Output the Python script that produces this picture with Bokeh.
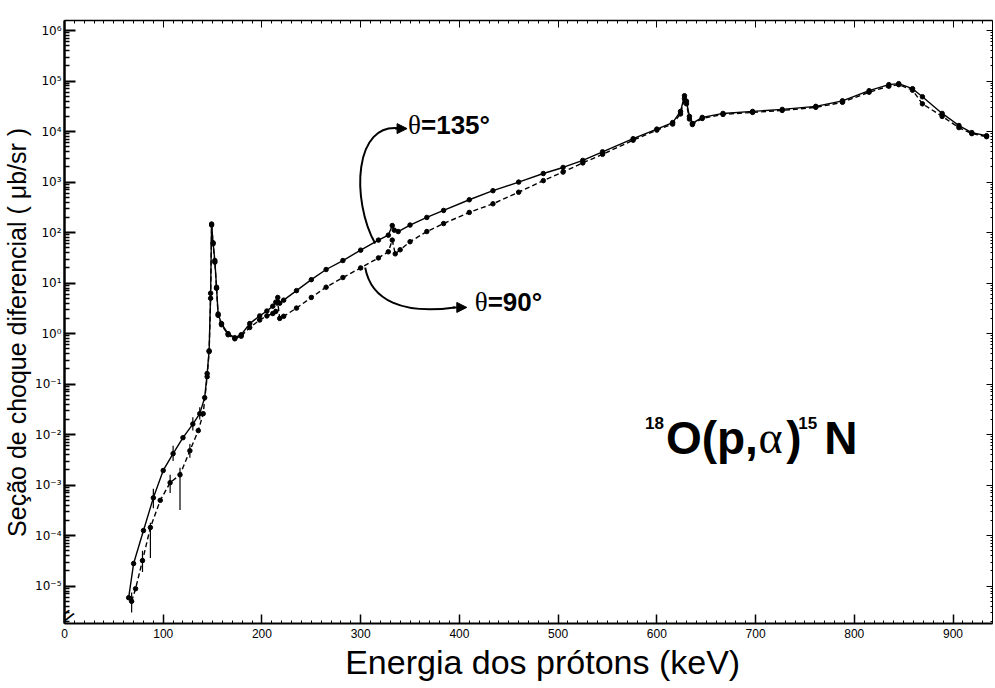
import math
from bokeh.plotting import figure
from bokeh.models import (FixedTicker, CustomJSTickFormatter, LinearAxis, LogAxis, Label,
                          Arrow, NormalHead, Range1d)
from bokeh.embed import file_html
from bokeh.resources import INLINE

# ---------------- data ----------------
# theta = 135 deg (upper curve, solid line)
E135 = [65, 70, 80, 90, 100, 110, 120, 130, 137, 142,
        144.5, 146.5, 148, 149, 150.5, 152.3, 154, 155.6, 159, 165.7,
        172.5, 179, 187.6, 197.7, 205, 211, 214, 216, 218, 222,
        235, 250, 265, 282, 300, 318, 328, 332, 334, 338,
        350, 367, 384, 410, 434, 460, 485, 505, 525, 545,
        576, 600, 616, 624, 628, 630, 633, 636, 646, 667,
        697, 727, 761, 788, 815, 835, 845, 859, 869, 889,
        906, 919, 934]
S135 = [5.9e-6, 2.8e-5, 1.26e-4, 5.6e-4, 1.95e-3, 4.2e-3, 8.7e-3, 1.62e-2, 2.6e-2, 5.4e-2,
        0.162, 0.457, 6.3, 148, 63, 28, 8.3, 2.45, 1.58, 1.0,
        0.83, 0.95, 1.58, 2.24, 2.8, 3.5, 4.2, 5.2, 4.0, 4.6,
        7.1, 11.7, 18.6, 28, 45, 71, 89, 138, 112, 105,
        141, 200, 275, 447, 676, 1000, 1480, 1950, 2690, 3980,
        7240, 11200, 15100, 25100, 51300, 39800, 20000, 14500, 19100, 22900,
        25100, 27500, 31600, 40700, 64600, 85100, 89100, 70800, 49000, 22900,
        13200, 9550, 8300]

# theta = 90 deg (lower curve, dashed line)
E90 = [68, 72, 79, 87, 97, 107, 117, 127, 135.5, 140.5,
       144.5, 146.5, 148, 149, 150.5, 152.3, 154, 155.6, 159, 165.7,
       172.5, 179, 187.6, 197.7, 205, 211, 214, 216, 218, 222,
       235, 250, 265, 282, 300, 318, 328, 332, 335, 340,
       350, 367, 384, 410, 434, 460, 485, 505, 525, 545,
       576, 600, 616, 624, 628, 630, 633, 636, 646, 667,
       697, 727, 761, 788, 815, 835, 845, 859, 869, 889,
       906, 919, 934]
S90 = [5.0e-6, 8.9e-6, 3.2e-5, 1.45e-4, 5.0e-4, 1.12e-3, 1.6e-3, 4.8e-3, 1.2e-2, 2.6e-2,
       0.14, 0.44, 5.0, 141, 60, 26, 7.9, 2.3, 1.5, 0.95,
       0.79, 0.89, 1.32, 1.86, 2.24, 2.5, 2.75, 4.2, 2.0, 2.2,
       3.2, 5.2, 8.3, 12.9, 20, 31.6, 41.7, 71, 38, 45.7,
       66, 105, 151, 251, 372, 631, 1070, 1580, 2400, 3550,
       6760, 10700, 14100, 22400, 44700, 35500, 17800, 13800, 18200, 21900,
       24000, 26300, 30200, 38000, 60300, 79400, 85100, 66100, 35500, 20000,
       12000, 9120, 7940]

# error bars (low-energy points)
EB135_E = [90, 110, 130, 137]
EB135_LO = [3.5e-4, 3.0e-3, 1.2e-2, 2.0e-2]
EB135_HI = [8.5e-4, 6.0e-3, 2.2e-2, 3.5e-2]
EB90_E = [68, 79, 87, 107, 117, 127]
EB90_LO = [3.0e-6, 1.9e-5, 3.6e-5, 7.0e-4, 3.2e-4, 3.5e-3]
EB90_HI = [7.5e-6, 5.0e-5, 1.8e-4, 1.6e-3, 2.2e-3, 6.5e-3]

X_TICKS = [0, 100, 200, 300, 400, 500, 600, 700, 800, 900]
Y_TICKS = [1e-5, 1e-4, 1e-3, 1e-2, 1e-1, 1, 10, 100, 1e3, 1e4, 1e5, 1e6]

X_TITLE = "\u00a0\u00a0\u00a0Energia dos prótons (keV)"
Y_TITLE = "Seção de choque diferencial ( μb/sr )\u00a0\u00a0\u00a0"

# ---------------- figure ----------------
p = figure(width=995, height=688, x_range=Range1d(0, 940), y_range=Range1d(1.82e-6, 1.585e6),
           y_axis_type="log", output_backend="svg", toolbar_location=None,
           min_border_left=60, min_border_right=3, min_border_top=20, min_border_bottom=65)
p.background_fill_color = "white"
p.border_fill_color = "white"
p.outline_line_color = None
p.xgrid.visible = False
p.ygrid.visible = False

x_minor = list(range(0, 950, 10))
y_minor = [m * 10.0 ** e for e in range(-6, 7) for m in range(2, 10)]

sup_code = """
const sup = {"0":"⁰","1":"¹","2":"²","3":"³","4":"⁴","5":"⁵","6":"⁶","7":"⁷","8":"⁸","9":"⁹","-":"⁻"};
const e = Math.round(Math.log10(tick));
return "10" + String(e).split("").map(c => sup[c]).join("");
"""

xa = p.xaxis[0]
xa.ticker = FixedTicker(ticks=X_TICKS, minor_ticks=x_minor)
xa.major_label_text_font = "Liberation Sans"
xa.major_label_text_font_size = "12px"
xa.major_label_text_color = "black"
xa.major_label_standoff = 5
xa.major_tick_in = 9
xa.major_tick_out = 0
xa.minor_tick_in = 3
xa.minor_tick_out = 0
xa.axis_line_width = 2
xa.major_tick_line_width = 1.5
xa.axis_label = X_TITLE
xa.axis_label_text_font = "Liberation Sans"
xa.axis_label_text_font_size = "34px"
xa.axis_label_text_font_style = "normal"
xa.axis_label_text_color = "black"
xa.axis_label_standoff = 2

ya = p.yaxis[0]
ya.ticker = FixedTicker(ticks=Y_TICKS, minor_ticks=y_minor)
ya.formatter = CustomJSTickFormatter(code=sup_code)
ya.major_label_text_font = "DejaVu Sans"
ya.major_label_text_font_size = "12px"
ya.major_label_text_color = "black"
ya.major_label_standoff = 3
ya.major_tick_in = 11
ya.major_tick_out = 0
ya.minor_tick_in = 5
ya.minor_tick_out = 0
ya.axis_line_width = 2.5
ya.major_tick_line_width = 2
ya.minor_tick_line_width = 1.5
ya.axis_label = Y_TITLE
ya.axis_label_text_font = "Liberation Sans"
ya.axis_label_text_font_size = "25px"
ya.axis_label_text_font_style = "normal"
ya.axis_label_text_color = "black"
ya.axis_label_standoff = 1

empty = CustomJSTickFormatter(code="return '';")
top = LinearAxis(ticker=FixedTicker(ticks=X_TICKS, minor_ticks=x_minor), formatter=empty,
                 major_label_text_font_size="0px", major_label_standoff=0,
                 major_tick_in=7, major_tick_out=0, minor_tick_in=3, minor_tick_out=0,
                 axis_line_width=1.5)
p.add_layout(top, "above")
right = LogAxis(ticker=FixedTicker(ticks=Y_TICKS, minor_ticks=y_minor), formatter=empty,
                major_label_text_font_size="0px", major_label_standoff=0,
                major_tick_in=6, major_tick_out=0, minor_tick_in=2, minor_tick_out=0,
                axis_line_width=1)
p.add_layout(right, "right")

# ---------------- data marks ----------------
p.segment(x0=EB135_E, y0=EB135_LO, x1=EB135_E, y1=EB135_HI, line_color="black", line_width=1.2)
p.segment(x0=EB90_E, y0=EB90_LO, x1=EB90_E, y1=EB90_HI, line_color="black", line_width=1.2)

p.line(E135, S135, line_color="black", line_width=1.4)
p.line(E90, S90, line_color="black", line_width=1.4, line_dash="5 3")
p.scatter(E135, S135, marker="circle", size=4.5, fill_color="black", line_color="black")
p.scatter(E90, S90, marker="circle", size=4.5, fill_color="black", line_color="black")

# ---------------- annotations ----------------
p.bezier(x0=[314.7], y0=[60.6], x1=[340.9], y1=[11460], cx0=[290.5], cy0=[430],
         cx1=[292.5], cy1=[16500], line_color="black", line_width=2)
p.add_layout(Arrow(x_start=334.8, y_start=11460, x_end=347.0, y_end=11460, line_width=2,
                   end=NormalHead(size=10, fill_color="black", line_color="black")))
p.bezier(x0=[304.6], y0=[20.3], x1=[395.4], y1=[3.3], cx0=[310.6], cy0=[4.5],
         cx1=[342.9], cy1=[2.38], line_color="black", line_width=2)
p.add_layout(Arrow(x_start=393.3, y_start=3.3, x_end=407.5, y_end=3.3, line_width=2,
                   end=NormalHead(size=10, fill_color="black", line_color="black")))

def lab(x, y, text, size, font="Liberation Sans", style="bold", **kw):
    p.add_layout(Label(x=x, y=y, text=text, text_font=font, text_font_size=size,
                       text_font_style=style, text_color="black",
                       text_baseline="middle", **kw))

lab(348.0, 13770, "θ", "27px", font="Liberation Serif", style="normal")
lab(361.1, 13770, "=135°", "26px")
lab(415.5, 4.3, "θ", "27px", font="Liberation Serif", style="normal")
lab(428.6, 4.3, "=90°", "26px")

lab(588.0, 1.69e-2, "18", "17px")
lab(609.2, 8.7e-3, "O(p,", "46px")
lab(703.0, 8.7e-3, "α", "46px", font="Liberation Serif", style="normal")
lab(731.2, 8.7e-3, ")", "46px")
lab(743.3, 1.69e-2, "15", "17px")
lab(769.5, 8.7e-3, "N", "46px")

# axis break mark
lab(2, 2.6e-6, "//", "16px", font="DejaVu Sans", angle=-0.6, text_align="center")

open("out.html", "w").write(file_html(p, INLINE))
